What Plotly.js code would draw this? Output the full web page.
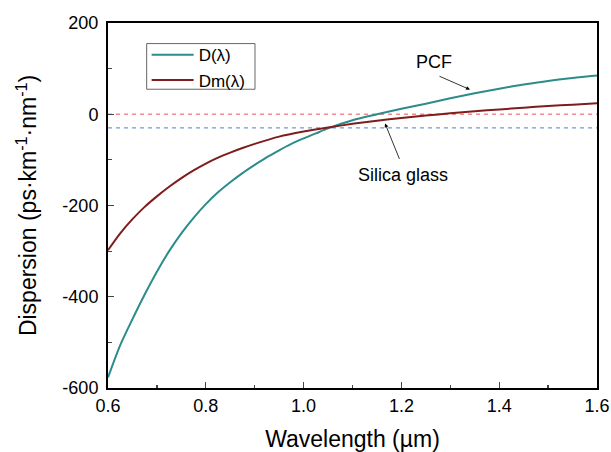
<!DOCTYPE html>
<html>
<head>
<meta charset="utf-8">
<script src="https://cdn.plot.ly/plotly-3.0.1.min.js"></script>
<style>html,body{margin:0;padding:0;background:#fff;}#chart{width:611px;height:452px;}</style>
</head>
<body>
<div id="chart"></div>
<script>
// Wavelength (µm) and dispersion (ps·km^-1·nm^-1)
var lamD = [0.60,0.625,0.65,0.675,0.70,0.725,0.75,0.775,0.80,0.825,0.85,0.875,0.90,0.925,0.95,0.975,1.00,1.025,1.05,1.10,1.15,1.20,1.25,1.30,1.35,1.40,1.45,1.50,1.55,1.60];
var D    = [-577,-506,-449,-395,-345,-300,-261,-227,-197,-171,-149,-129,-111,-94,-79,-65,-53,-42,-31,-13,0,12,23,35,46,56,65,73,79.5,85];
var lamDm = [0.60,0.625,0.65,0.675,0.70,0.725,0.75,0.775,0.80,0.825,0.85,0.875,0.90,0.95,1.00,1.05,1.10,1.15,1.20,1.25,1.30,1.35,1.40,1.45,1.50,1.55,1.60];
var Dm    = [-298,-261,-230,-203,-180,-159,-140,-123,-108,-95,-84,-74,-65,-49,-38,-29,-21,-14,-8,-3,2,6.5,10.5,14.5,18,21,24];
var refX = [0.6, 1.6];
var zeroLine = [0, 0];
var silicaLine = [-30, -30];
var yTickVals = [-600,-400,-200,0,200];
var yTickText = ["-600","-400","-200","0","200"];
var xTickVals = [0.6,0.8,1.0,1.2,1.4,1.6];
var xTickText = ["0.6","0.8","1.0","1.2","1.4","1.6"];

var FONT = "Arial, 'Liberation Sans', sans-serif";
var traces = [
  {x: refX, y: zeroLine, mode:'lines', line:{color:'#f28b8b', width:1.3, dash:'4px,4px'}, showlegend:false, hoverinfo:'skip'},
  {x: refX, y: silicaLine, mode:'lines', line:{color:'#7a95cf', width:1.3, dash:'4px,4px'}, showlegend:false, hoverinfo:'skip'},
  {x: lamD, y: D, mode:'lines', name:'D(λ)', line:{color:'#2b8c8a', width:2, shape:'spline', smoothing:0.8}},
  {x: lamDm, y: Dm, mode:'lines', name:'Dm(λ)', line:{color:'#7f1d1d', width:2, shape:'spline', smoothing:0.8}}
];
var layout = {
  width:611, height:452,
  margin:{l:108, r:14, t:23, b:64},
  paper_bgcolor:'#fff', plot_bgcolor:'#fff',
  font:{family:FONT, size:18, color:'#000'},
  showlegend:true,
  legend:{x:0.079, y:0.961, xanchor:'left', yanchor:'top', bgcolor:'rgba(0,0,0,0)', borderwidth:0,
          font:{family:FONT, size:17, color:'#000'}, tracegroupgap:0, itemwidth:42},
  shapes:[
    {type:'rect', xref:'paper', yref:'paper', x0:0.0791, x1:0.3006, y0:0.8185, y1:0.9436,
     line:{color:'#666', width:1}, fillcolor:'rgba(0,0,0,0)', layer:'above'}
  ],
  xaxis:{range:[0.6,1.6], tickvals:xTickVals, ticktext:xTickText, ticks:'inside', ticklen:6, tickwidth:1.2,
         showline:true, linewidth:2, linecolor:'#000', mirror:true, showgrid:false, zeroline:false,
         minor:{dtick:0.1, ticks:'inside', ticklen:3.5, tickwidth:1.2, showgrid:false},
         tickfont:{family:FONT, size:18}, 
         title:{text:'Wavelength (µm)', font:{family:FONT, size:23}, standoff:16}},
  yaxis:{range:[-600,200], tickvals:yTickVals, ticktext:yTickText, ticks:'inside', ticklen:6, tickwidth:1.2,
         showline:true, linewidth:2, linecolor:'#000', mirror:true, showgrid:false, zeroline:false,
         minor:{dtick:100, ticks:'inside', ticklen:3.5, tickwidth:1.2, showgrid:false},
         tickfont:{family:FONT, size:18}, ticklabelstandoff:4,
         title:{text:'Dispersion (ps·km<sup>-1</sup>·nm<sup>-1</sup>)', font:{family:FONT, size:23}, standoff:19}},
  annotations:[
    {x:1.3403, y:54, xref:'x', yref:'y', text:'', showarrow:true, arrowhead:2, arrowsize:1, arrowwidth:0.8, arrowcolor:'#000', ax:-32, ay:-14},
    {x:1.2675, y:114, xref:'x', yref:'y', text:'PCF', showarrow:false, font:{family:FONT, size:18, color:'#000'}},
    {x:1.1665, y:-20, xref:'x', yref:'y', text:'', showarrow:true, arrowhead:2, arrowsize:1, arrowwidth:0.8, arrowcolor:'#000', ax:15, ay:37},
    {x:1.204, y:-133, xref:'x', yref:'y', text:'Silica glass', showarrow:false, font:{family:FONT, size:18, color:'#000'}}
  ]
};
Plotly.newPlot('chart', traces, layout, {displayModeBar:false, staticPlot:true});
</script>
</body>
</html>
